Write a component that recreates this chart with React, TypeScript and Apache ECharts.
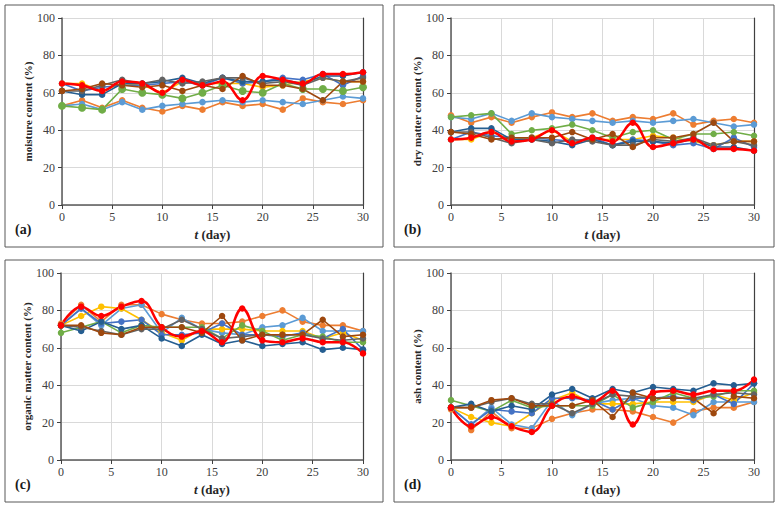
import React, { useEffect, useRef } from "react";
import * as echarts from "echarts";

const days = [0, 2, 4, 6, 8, 10, 12, 14, 16, 18, 20, 22, 24, 26, 28, 30];
const xTicks = [0, 5, 10, 15, 20, 25, 30];
const yTicks = [0, 20, 40, 60, 80, 100];

const seriesNames = ["orange", "lightBlue", "gold", "mediumBlue", "green", "darkBlue", "gray", "brown", "red"];
const seriesColors = ["#ED7D31", "#5B9BD5", "#FFC000", "#4472C4", "#70AD47", "#255E91", "#636363", "#9E480E", "#FF0000"];

// (a) moisture content
const moisture = {
  orange: [53, 56, 52, 56, 52, 50, 53, 51, 55, 53, 54, 51, 57, 55, 54, 56],
  lightBlue: [53, 54, 51, 55, 51, 53, 54, 55, 56, 55, 56, 55, 54, 56, 58, 57],
  gold: [65, 65, 61, 65, 64, 60, 66, 65, 65, 65, 63, 64, 66, 68, 66, 66],
  mediumBlue: [65, 61, 63, 64, 64, 65, 66, 64, 68, 65, 66, 68, 67, 70, 64, 69],
  green: [53, 52, 51, 62, 60, 59, 57, 60, 64, 61, 60, 65, 62, 62, 61, 63],
  darkBlue: [61, 59, 59, 65, 65, 66, 68, 65, 68, 66, 66, 67, 65, 69, 69, 71],
  gray: [61, 61, 64, 67, 65, 67, 65, 66, 68, 68, 65, 66, 64, 68, 66, 68],
  brown: [61, 62, 65, 64, 63, 64, 61, 64, 62, 69, 64, 64, 62, 56, 66, 66],
  red: [65, 64, 61, 66, 65, 60, 67, 64, 66, 56, 69, 67, 65, 70, 70, 71],
};

// (b) dry matter content
const dryMatter = {
  orange: [48, 44, 47, 44, 47, 49.5, 47, 49, 45, 47, 46, 49, 43, 45, 46, 44],
  lightBlue: [47, 46, 49, 45, 49, 47, 46, 45, 44, 45, 44, 45, 46, 44, 42, 43],
  gold: [35, 35, 39, 35, 36, 40, 34, 35, 35, 35, 37, 36, 34, 32, 34, 34],
  mediumBlue: [35, 39, 37, 36, 36, 35, 34, 36, 32, 35, 34, 32, 33, 30, 36, 31],
  green: [47, 48, 49, 38, 40, 41, 43, 40, 36, 39, 40, 35, 38, 38, 39, 37],
  darkBlue: [39, 41, 41, 35, 35, 34, 32, 35, 32, 34, 34, 33, 35, 31, 31, 29],
  gray: [39, 39, 36, 33, 35, 33, 35, 34, 32, 32, 35, 34, 36, 32, 34, 32],
  brown: [39, 38, 35, 36, 36, 36, 39, 35, 38, 31, 36, 36, 38, 44, 34, 34],
  red: [35, 36, 39, 34, 35, 40, 33, 36, 34, 44, 31, 33, 35, 30, 30, 29],
};

// (c) organic matter content
const organicMatter = {
  orange: [73, 83, 74, 83, 83, 78, 75, 73, 73, 74, 77, 80, 74, 72, 72, 69],
  lightBlue: [72, 81, 72, 81, 83, 68, 76, 70, 68, 67, 71, 72, 76, 69, 69, 69],
  gold: [72, 77, 82, 81, 75, 68, 64, 70, 70, 70, 69, 69, 69, 65, 68, 64],
  mediumBlue: [72, 81, 73, 74, 75, 67, 67, 68, 73, 67, 67, 66, 68, 65, 70, 59],
  green: [68, 71, 74, 68, 72, 71, 71, 71, 65, 72, 69, 64, 67, 66, 63, 63],
  darkBlue: [72, 69, 74, 70, 72, 65, 61, 67, 62, 64, 61, 62, 63, 59, 60, 59],
  gray: [72, 71, 69, 67, 70, 70, 75, 70, 65, 66, 67, 67, 67, 65, 64, 65],
  brown: [72, 72, 68, 67, 71, 71, 71, 68, 77, 64, 67, 67, 67, 75, 66, 67],
  red: [72, 82, 77, 82, 85, 71, 66, 69, 63, 81, 64, 63, 65, 63, 63, 57],
};

// (d) ash content
const ash = {
  orange: [27, 16, 26, 17, 17, 22, 25, 27, 27, 26, 23, 20, 26, 28, 28, 31],
  lightBlue: [28, 19, 28, 19, 17, 32, 24, 30, 32, 33, 29, 28, 24, 31, 31, 31],
  gold: [28, 23, 20, 18, 25, 32, 36, 30, 30, 30, 31, 31, 31, 35, 32, 36],
  mediumBlue: [28, 19, 27, 26, 25, 33, 33, 32, 27, 33, 33, 34, 32, 35, 30, 41],
  green: [32, 29, 26, 32, 28, 29, 29, 29, 35, 28, 31, 36, 33, 34, 37, 37],
  darkBlue: [28, 30, 26, 29, 27, 35, 38, 33, 38, 36, 39, 38, 37, 41, 40, 41],
  gray: [28, 28, 31, 33, 30, 30, 25, 30, 35, 34, 33, 33, 33, 35, 36, 35],
  brown: [28, 28, 32, 33, 29, 29, 29, 32, 23, 36, 33, 33, 33, 25, 34, 33],
  red: [28, 18, 23, 18, 15, 29, 34, 31, 37, 19, 36, 37, 35, 37, 37, 43],
};

const panels = [
  { data: moisture, yName: "moisture content (%)", label: "(a)" },
  { data: dryMatter, yName: "dry matter content (%)", label: "(b)" },
  { data: organicMatter, yName: "organic matter content (%)", label: "(c)" },
  { data: ash, yName: "ash content (%)", label: "(d)" },
];

const grids = [
  { left: 62, top: 18, width: 301, height: 187 },
  { left: 451, top: 18, width: 303, height: 187 },
  { left: 61, top: 273, width: 302, height: 187 },
  { left: 451, top: 273, width: 303, height: 187 },
];

const boxes = [
  { x: 5, y: 5, w: 378, h: 242 },
  { x: 394, y: 5, w: 380, h: 242 },
  { x: 5, y: 260, w: 378, h: 242 },
  { x: 394, y: 260, w: 380, h: 242 },
];

const FONT = "Liberation Serif";
const TXT = "#404040";

export default function App() {
  const ref = useRef<HTMLDivElement>(null);
  useEffect(() => {
    if (!ref.current) return;
    const chart = echarts.init(ref.current, null, { renderer: "svg" });
    const xAxis: any[] = [];
    const yAxis: any[] = [];
    const series: any[] = [];
    const graphic: any[] = [];
    panels.forEach((p, i) => {
      xAxis.push({
        type: "value",
        gridIndex: i,
        min: 0,
        max: 30,
        interval: 5,
        name: "{i|t} {b|(day)}",
        nameLocation: "middle",
        nameGap: 23,
        nameTextStyle: {
          rich: {
            i: { fontFamily: FONT, fontStyle: "italic", fontWeight: "bold", fontSize: 13, color: "#262626" },
            b: { fontFamily: FONT, fontWeight: "bold", fontSize: 13, color: "#262626" },
          },
        },
        axisLine: { lineStyle: { color: "#595959", width: 1.5 } },
        axisTick: { show: true, length: 4, lineStyle: { color: "#404040" } },
        axisLabel: { fontFamily: FONT, fontSize: 12, color: TXT, margin: 6 },
        splitLine: { show: true, lineStyle: { color: "#D9D9D9", width: 1 } },
      });
      yAxis.push({
        type: "value",
        gridIndex: i,
        min: 0,
        max: 100,
        interval: 20,
        name: p.yName,
        nameLocation: "middle",
        nameGap: 29,
        nameTextStyle: { fontFamily: FONT, fontWeight: "bold", fontSize: 11, color: "#262626" },
        axisLine: { show: true, lineStyle: { color: "#595959", width: 1.5 } },
        axisTick: { show: true, length: 4, lineStyle: { color: "#404040" } },
        axisLabel: { fontFamily: FONT, fontSize: 12, color: TXT, margin: 7 },
        splitLine: { show: true, lineStyle: { color: "#D9D9D9", width: 1 } },
      });
      yAxis.push({
        type: "value",
        gridIndex: i,
        position: "right",
        min: 0,
        max: 100,
        interval: 20,
        axisLine: { show: true, lineStyle: { color: "#404040", width: 1.2 } },
        axisTick: { show: false },
        axisLabel: { show: false },
        splitLine: { show: false },
      });
      seriesNames.forEach((n, k) => {
        const vals = (p.data as any)[n] as number[];
        const isRed = n === "red";
        series.push({
          type: "line",
          name: n,
          xAxisIndex: i,
          yAxisIndex: i * 2,
          data: days.map((d, j) => [d, vals[j]]),
          smooth: isRed ? 0.4 : false,
          symbol: "circle",
          symbolSize: n === "green" && i === 0 ? 8 : 6.5,
          itemStyle: { color: seriesColors[k] },
          lineStyle: { color: seriesColors[k], width: isRed ? 2.5 : 1.6 },
        });
      });
      const b = boxes[i];
      graphic.push({
        type: "rect",
        shape: { x: b.x, y: b.y, width: b.w, height: b.h },
        style: { fill: "none", stroke: "#595959", lineWidth: 1 },
        silent: true,
      });
      graphic.push({
        type: "text",
        x: b.x + 10,
        y: b.y + 217,
        style: { text: p.label, font: `bold 14px "${FONT}"`, fill: "#1a1a1a" },
        silent: true,
      });
    });
    chart.setOption({
      animation: false,
      backgroundColor: "#ffffff",
      grid: grids.map((g) => ({ ...g, containLabel: false })),
      xAxis,
      yAxis,
      series,
      graphic,
    });
    return () => chart.dispose();
  }, []);
  return <div ref={ref} style={{ width: 776, height: 507, position: "absolute", left: 0, top: 0 }} />;
}
